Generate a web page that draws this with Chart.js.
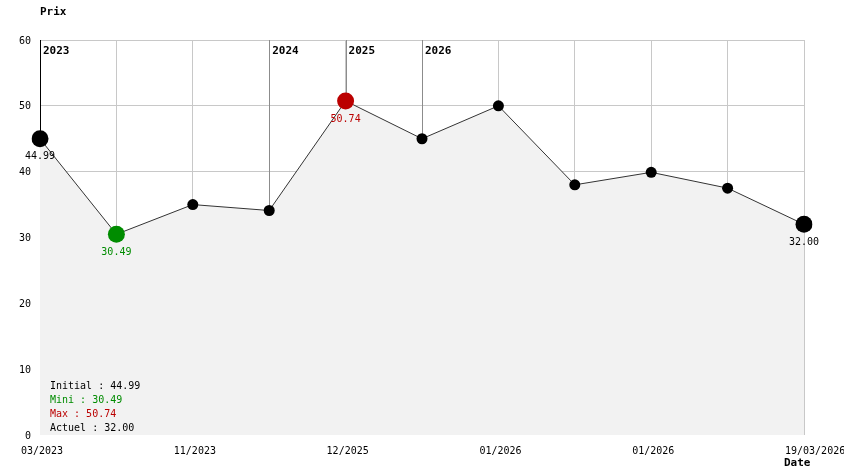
<!DOCTYPE html>
<html>
<head>
<meta charset="utf-8">
<script src="https://cdn.jsdelivr.net/npm/chart.js@4/dist/chart.umd.min.js"></script>
<style>
html,body{margin:0;padding:0;background:#fff;}
canvas{display:block;}
</style>
</head>
<body>
<canvas id="c" width="844" height="474"></canvas>
<script>
// ---- data ----
const tickLabels = ['03/2023','','11/2023','','12/2025','','01/2026','','01/2026','','19/03/2026'];
const prices = [44.99, 30.49, 35.0, 34.1, 50.74, 45.0, 50.0, 38.0, 39.9, 37.5, 32.0];
const yearLabels = ['2023','2024','2025','2026'];
const yearIndex = [0, 3, 4, 5];
const yTicks = [0, 10, 20, 30, 40, 50, 60];
const summaryLabels = ['Initial : 44.99','Mini : 30.49','Max : 50.74','Actuel : 32.00'];
const axisTitleY = 'Prix';
const axisTitleX = 'Date';

// ---- styles ----
const GREEN = '#008c00', RED = '#bb0000', BLACK = '#000000';
const MONO = '10px "DejaVu Sans Mono", monospace';
const MONO_B = 'bold 11px "DejaVu Sans Mono", monospace';

const iMin = prices.indexOf(Math.min(...prices));
const iMax = prices.indexOf(Math.max(...prices));
const last = prices.length - 1;
const ptColor = prices.map((v,i)=> i===iMin?GREEN : i===iMax?RED : BLACK);
const ptRadius = prices.map((v,i)=> (i===0||i===last||i===iMin||i===iMax)?8.5:5.5);
const summaryColors = [BLACK, GREEN, RED, BLACK];
const valueIdx = [0, iMin, iMax, last];
const valueColors = [BLACK, GREEN, RED, BLACK];

const yearLinesPlugin = {
  id: 'yearLines',
  beforeDatasetsDraw(chart){
    const {ctx, chartArea} = chart;
    const xs = chart.scales.x;
    ctx.save();
    yearIndex.forEach((idx,k)=>{
      const x = Math.round(xs.getPixelForValue(idx)) + 0.5;
      ctx.strokeStyle = k===0 ? '#000' : '#8c8c8c';
      ctx.lineWidth = 1;
      ctx.beginPath();
      ctx.moveTo(x, chartArea.top);
      ctx.lineTo(x, chartArea.bottom);
      ctx.stroke();
    });
    ctx.restore();
  },
  afterDatasetsDraw(chart){
    const {ctx, chartArea} = chart;
    const xs = chart.scales.x, ys = chart.scales.y;
    ctx.save();
    ctx.textBaseline = 'middle';
    // year labels
    ctx.font = MONO_B; ctx.fillStyle = '#000'; ctx.textAlign = 'left';
    yearIndex.forEach((idx,k)=>{
      ctx.fillText(yearLabels[k], xs.getPixelForValue(idx) + 3, chartArea.top + 11);
    });
    // axis titles
    ctx.fillText(axisTitleY, 40, 12);
    ctx.fillText(axisTitleX, 784, 463);
    // y ticks
    ctx.font = MONO; ctx.textAlign = 'right';
    yTicks.forEach(v=>{
      ctx.fillText(String(v), 31, ys.getPixelForValue(v) + 1);
    });
    // x ticks (left edge placed just left of the tick position)
    ctx.textAlign = 'left';
    tickLabels.forEach((t,i)=>{
      if(!t) return;
      ctx.fillText(t, xs.getPixelForValue(i) - 19, 451);
    });
    // value labels
    ctx.textAlign = 'center';
    valueIdx.forEach((idx,k)=>{
      ctx.fillStyle = valueColors[k];
      ctx.fillText(prices[idx].toFixed(2), xs.getPixelForValue(idx), ys.getPixelForValue(prices[idx]) + 18);
    });
    // summary
    ctx.textAlign = 'left';
    summaryLabels.forEach((s,k)=>{
      ctx.fillStyle = summaryColors[k];
      ctx.fillText(s, 50, 386 + k*14);
    });
    ctx.restore();
  }
};

new Chart(document.getElementById('c'), {
  type: 'line',
  data: {
    labels: tickLabels,
    datasets: [{
      data: prices,
      borderColor: '#333333',
      borderWidth: 1,
      backgroundColor: '#f2f2f2',
      fill: 'origin',
      tension: 0,
      pointRadius: ptRadius,
      pointHoverRadius: ptRadius,
      pointBackgroundColor: ptColor,
      pointBorderColor: ptColor,
      pointBorderWidth: 0
    }]
  },
  options: {
    responsive: false,
    devicePixelRatio: 1,
    animation: false,
    events: [],
    layout: { padding: { left: 40, right: 40, top: 40, bottom: 39 } },
    plugins: { legend: { display: false }, tooltip: { enabled: false } },
    scales: {
      x: {
        type: 'category',
        offset: false,
        ticks: { display: false },
        border: { display: false },
        grid: { color: '#c8c8c8', lineWidth: 1, drawTicks: false }
      },
      y: {
        min: 0, max: 60,
        ticks: { display: false, stepSize: 10 },
        border: { display: false },
        grid: { color: (c)=> (c.tick && c.tick.value === 0) ? 'rgba(0,0,0,0)' : '#c8c8c8', lineWidth: 1, drawTicks: false }
      }
    }
  },
  plugins: [yearLinesPlugin]
});
</script>
</body>
</html>
